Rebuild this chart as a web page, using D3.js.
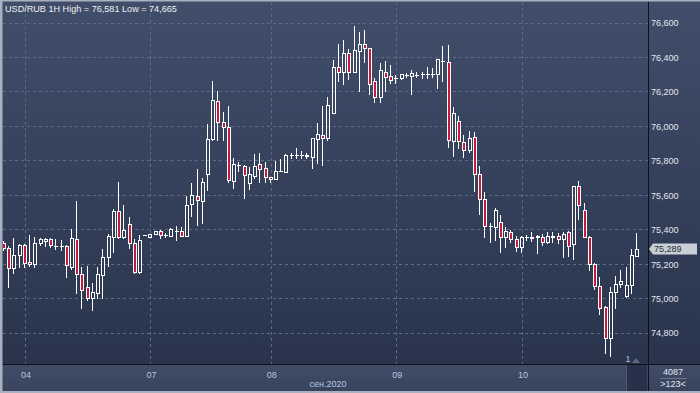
<!DOCTYPE html>
<html><head><meta charset="utf-8">
<script src="https://cdn.jsdelivr.net/npm/d3@7"></script>
<style>html,body{margin:0;padding:0;background:#2e3a53;overflow:hidden}svg{display:block}</style>
</head><body><svg id="c" width="700" height="393"></svg>
<script>
const title = "USD/RUB 1H High = 76,581 Low = 74,665";
const opens = [75321,75292,75174,75252,75310,75211,75199,75319,75331,75344,
75305,75304,75305,75184,75343,75140,75068,75000,75033,75134,
75242,75358,75507,75354,75431,75323,75155,75367,75358,75375,
75389,75369,75364,75391,75389,75364,75546,75594,75566,75720,
75923,76145,76021,75992,75682,75772,75768,75667,75710,75778,
75754,75702,75692,75740,75735,75832,75832,75832,75828,75822,
75924,75948,75928,76077,76340,76311,76421,76315,76436,76474,
76450,76262,76166,76315,76291,76276,76276,76296,76291,76296,
76300,76300,76300,76300,76378,76369,75913,76030,75905,75860,
75934,75720,75575,75420,75416,75445,75354,75383,75343,75296,
75354,75352,75358,75354,75329,75358,75362,75343,75383,75314,
75652,75511,75358,75198,75072,74952,74768,75039,75082,75016,
75078,75248];
const highs = [75333,75304,75348,75315,75315,75367,75358,75352,75352,75352,
75343,75338,75310,75401,75565,75184,75188,75087,75180,75285,
75373,75517,75675,75541,75474,75344,75367,75369,75376,75393,
75396,75381,75407,75421,75412,75594,75667,75750,75696,76011,
76261,76203,76083,76117,75812,75793,75773,75764,75836,75845,
75793,75704,75797,75808,75836,75841,75874,75855,75843,75930,
76015,76117,76170,76382,76474,76498,76445,76581,76543,76557,
76450,76276,76363,76377,76353,76296,76304,76305,76325,76311,
76315,76344,76334,76388,76465,76469,76108,76058,75947,75971,
75963,75768,75615,75439,75522,75483,75416,75396,75364,75364,
75367,75383,75367,75373,75387,75385,75381,75387,75388,75652,
75681,75553,75362,75203,75122,74956,75064,75130,75165,75184,
75286,75381];
const lows = [75281,75064,75149,75184,75184,75188,75180,75310,75304,75300,
75285,75281,75126,75169,75029,74942,74990,74933,75000,75000,
75188,75271,75348,75348,75294,75149,75149,75366,75356,75373,
75348,75358,75364,75339,75362,75362,75479,75426,75439,75626,
75918,75918,75918,75677,75638,75740,75580,75634,75696,75677,
75677,75677,75692,75739,75735,75816,75816,75816,75814,75754,
75783,75774,75918,76077,76262,76243,76271,76315,76203,76369,
76185,76141,76141,76203,76247,76247,76272,76286,76185,76282,
76276,76280,76284,76218,76262,75876,75828,75874,75822,75851,
75624,75488,75354,75329,75339,75271,75296,75329,75277,75271,
75339,75334,75261,75310,75323,75329,75319,75238,75246,75227,
75459,75358,75165,75053,74908,74685,74665,74942,75068,75010,
75033,75248];
const closes = [75292,75174,75252,75310,75203,75198,75319,75343,75343,75310,
75306,75303,75193,75348,75140,75049,75004,75035,75140,75242,
75362,75507,75358,75396,75319,75155,75339,75367,75373,75389,
75369,75370,75401,75392,75364,75541,75599,75569,75673,75924,
76150,76025,75992,75687,75779,75774,75716,75720,75768,75750,
75702,75691,75740,75741,75832,75833,75833,75832,75829,75928,
75952,75932,76122,76340,76311,76421,76315,76440,76474,76450,
76242,76166,76324,76286,76266,76277,76300,76297,76305,76297,
76301,76301,76302,76387,76379,75919,76077,75913,75860,75928,
75720,75575,75420,75421,75512,75354,75391,75344,75296,75354,
75355,75353,75359,75329,75362,75359,75343,75373,75305,75652,
75541,75358,75198,75072,74942,74768,75039,75083,75101,75078,
75252,75289];
const priceTicks = [74800,75000,75200,75400,75600,75800,76000,76200,76400,76600];
const dayLabels = ["04","07","08","09","10"];
const dayIndex = [4,28,51,75,99];
const monthLabel = "сен.2020";
const lastPrice = 75289;
const infoTop = "4087", infoBottom = ">123<";

const W = 700, H = 393;
const plotL = 3, plotR = 648, plotT = 2, plotB = 364;
const svg = d3.select("#c");
const defs = svg.append("defs");
const g1 = defs.append("linearGradient").attr("id","bg").attr("x1",0).attr("y1",0).attr("x2",0).attr("y2",1);
g1.append("stop").attr("offset","0%").attr("stop-color","#414e6a");
g1.append("stop").attr("offset","100%").attr("stop-color","#29344c");
const g2 = defs.append("linearGradient").attr("id","bg2").attr("x1",0).attr("y1",0).attr("x2",0).attr("y2",1);
g2.append("stop").attr("offset","0%").attr("stop-color","#414d67");
g2.append("stop").attr("offset","100%").attr("stop-color","#37435c");
defs.append("clipPath").attr("id","clip").append("rect")
  .attr("x",plotL).attr("y",plotT).attr("width",plotR-plotL).attr("height",plotB-plotT);

svg.append("rect").attr("x",0).attr("y",0).attr("width",W).attr("height",plotB).attr("fill","url(#bg)");
svg.append("rect").attr("x",0).attr("y",plotB).attr("width",W).attr("height",H-plotB).attr("fill","url(#bg2)");

const x = d3.scaleLinear().domain([0, opens.length-1]).range([4, 637]);
const y = d3.scaleLinear().domain([74800, 76600]).range([332.8, 22.5]);

// grid
const grid = svg.append("g").attr("stroke","#5b6b8a").attr("stroke-dasharray","3,3").attr("stroke-width",1);
grid.selectAll("line.h").data(priceTicks).join("line")
  .attr("x1",plotL).attr("x2",plotR)
  .attr("y1",d=>Math.round(y(d))+0.5).attr("y2",d=>Math.round(y(d))+0.5);
grid.selectAll("line.v").data(dayIndex).join("line")
  .attr("y1",plotT).attr("y2",plotB)
  .attr("x1",d=>Math.round(x(d))+0.5).attr("x2",d=>Math.round(x(d))+0.5);

// candles
const data = opens.map((o,i)=>({i,o,h:highs[i],l:lows[i],c:closes[i]}));
const cg = svg.append("g").attr("clip-path","url(#clip)");
data.forEach(d=>{
  const L = Math.round(x(d.i)) - 2;
  const cx = L + 1.5;
  const yTop = Math.round(y(Math.max(d.o,d.c)));
  const yBot = Math.round(y(Math.min(d.o,d.c)));
  const yH = Math.round(y(d.h)), yL = Math.round(y(d.l));
  if (yBot - yTop < 2) {
    cg.append("line").attr("x1",cx).attr("x2",cx).attr("y1",yH).attr("y2",yL+1).attr("stroke","#fff");
    cg.append("line").attr("x1",L).attr("x2",L+4).attr("y1",yTop+0.5).attr("y2",yTop+0.5).attr("stroke","#fff");
    if (yBot > yTop) cg.append("line").attr("x1",L).attr("x2",L+4).attr("y1",yBot+0.5).attr("y2",yBot+0.5).attr("stroke","#fff");
    return;
  }
  if (yH < yTop) cg.append("line").attr("x1",cx).attr("x2",cx).attr("y1",yH).attr("y2",yTop).attr("stroke","#fff");
  if (yL > yBot) cg.append("line").attr("x1",cx).attr("x2",cx).attr("y1",yBot+1).attr("y2",yL+1).attr("stroke","#fff");
  cg.append("rect").attr("x",L+0.5).attr("y",yTop+0.5).attr("width",3).attr("height",yBot-yTop)
    .attr("fill", d.c < d.o ? "#c8183c" : "none").attr("stroke","#fff").attr("stroke-width",1);
});

// separators
svg.append("line").attr("x1",0).attr("x2",W).attr("y1",plotB+0.5).attr("y2",plotB+0.5).attr("stroke","#0c121c");
svg.append("line").attr("x1",plotR+0.5).attr("x2",plotR+0.5).attr("y1",0).attr("y2",H).attr("stroke","#0c121c");
// frame
svg.append("rect").attr("x",0).attr("y",0).attr("width",W).attr("height",1.5).attr("fill","#a9b1c0");
svg.append("rect").attr("x",0).attr("y",0).attr("width",2.5).attr("height",H).attr("fill","#a9b1c0");
svg.append("rect").attr("x",0).attr("y",H-2).attr("width",W).attr("height",2).attr("fill","#a9b1c0");

const font = "'Liberation Sans', Arial, sans-serif";
// title
svg.append("text").attr("x",5).attr("y",11.5).attr("font-family",font).attr("font-size",9.1)
  .attr("fill","#eef1f5").text(title);

// right axis
const yAxis = d3.axisRight(y).tickValues(priceTicks).tickSize(0).tickPadding(0).tickFormat(d3.format(","));
const ya = svg.append("g").attr("transform",`translate(${plotR+3},0)`).call(yAxis);
ya.select(".domain").remove();
ya.selectAll("text").attr("font-family",font).attr("font-size",9).attr("fill","#e2e6ee").attr("dy","0.35em");

// bottom axis
const xAxis = d3.axisBottom(x).tickValues(dayIndex).tickSize(0).tickPadding(0)
  .tickFormat((d,k)=>dayLabels[k]);
const xa = svg.append("g").attr("transform",`translate(0.5,${plotB+11})`).call(xAxis);
xa.select(".domain").remove();
xa.selectAll("text").attr("font-family",font).attr("font-size",9).attr("fill","#b4c6e2").attr("dy","0.35em");
svg.append("text").attr("x",328).attr("y",387).attr("text-anchor","middle").attr("font-family",font)
  .attr("font-size",9).attr("fill","#b4c6e2").text(monthLabel);

// scroll handle
svg.append("rect").attr("x",626).attr("y",plotB+1).attr("width",21).attr("height",H-plotB-3).attr("fill","#27314a");
svg.append("line").attr("x1",626.5).attr("x2",626.5).attr("y1",plotB+1).attr("y2",H-2).attr("stroke","#4d5a75");
svg.append("text").attr("x",628).attr("y",362).attr("text-anchor","middle").attr("font-family",font)
  .attr("font-size",9).attr("fill","#a8c0e4").text("1");
svg.append("path").attr("d","M632,363 L636,358 L640,363 Z").attr("fill","#5b6882");

// info box
svg.append("text").attr("x",673).attr("y",375).attr("text-anchor","middle").attr("font-family",font)
  .attr("font-size",9).attr("fill","#e2e6ee").text(infoTop);
svg.append("line").attr("x1",660).attr("x2",687).attr("y1",378.5).attr("y2",378.5).attr("stroke","#6a7690");
svg.append("text").attr("x",673).attr("y",387).attr("text-anchor","middle").attr("font-family",font)
  .attr("font-size",9).attr("fill","#e2e6ee").text(infoBottom);

// last price marker
const ly = Math.round(y(lastPrice));
svg.append("path").attr("d",`M649,${ly} L653,${ly-5.5} L697,${ly-5.5} L697,${ly+5.5} L653,${ly+5.5} Z`)
  .attr("fill","#c9ced7");
svg.append("text").attr("x",654).attr("y",ly).attr("dy","0.35em").attr("font-family",font)
  .attr("font-size",9).attr("fill","#252a33").text(d3.format(",")(lastPrice));
</script></body></html>
